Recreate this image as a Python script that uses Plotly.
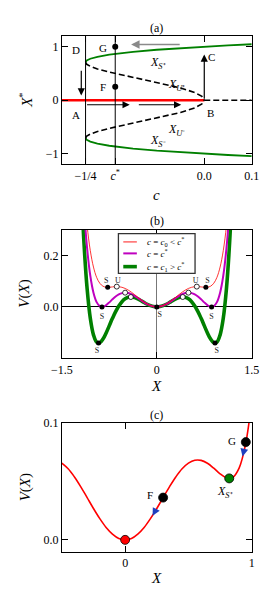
import plotly.graph_objects as go

FONT = "Liberation Serif"

# ---------------- panel (a): bifurcation diagram ----------------
c_fold = -0.25
c_star = -0.1875
c_range_a = [-0.3, 0.1]
c_stable = [-0.25, -0.2495, -0.249, -0.2475, -0.24, -0.225, -0.2, -0.175, -0.15, -0.1, -0.05, 0.0, 0.05, 0.1]
x_stable_up = [0.7071, 0.7228, 0.7291, 0.7416, 0.7746, 0.8112, 0.8507, 0.8797, 0.9035, 0.9420, 0.9732, 1.0, 1.0236, 1.0448]
x_stable_dn = [-0.7071, -0.7228, -0.7291, -0.7416, -0.7746, -0.8112, -0.8507, -0.8797, -0.9035, -0.9420, -0.9732, -1.0, -1.0236, -1.0448]
c_unstable = [-0.25, -0.2495, -0.249, -0.2475, -0.24, -0.225, -0.2, -0.175, -0.15, -0.1, -0.05, -0.02, -0.01, -0.005, 0.0]
x_unstable_up = [0.7071, 0.6911, 0.6844, 0.6708, 0.6325, 0.5847, 0.5257, 0.4755, 0.4287, 0.3357, 0.2297, 0.1428, 0.1005, 0.0707, 0.0]
x_unstable_dn = [-0.7071, -0.6911, -0.6844, -0.6708, -0.6325, -0.5847, -0.5257, -0.4755, -0.4287, -0.3357, -0.2297, -0.1428, -0.1005, -0.0707, 0.0]
c_zero_stable = [-0.3, 0.0]
x_zero_stable = [0.0, 0.0]
c_zero_unstable = [0.0, 0.1]
x_zero_unstable = [0.0, 0.0]
c_points = [c_star, c_star]
x_points = [1.0, 0.25]          # G, F

a_ticks = [-0.25, c_star, 0.0, 0.1]
a_ticktext = ["\u22121/4", "<i>c</i><sup>*</sup>", "0.0", "0.1"]
a_yticks = [-1, 0, 1]
a_yticktext = ["\u22121", "0", "1"]

# ---------------- panel (b): potentials ----------------
X_b = [-1.2, -1.15, -1.1, -1.05, -1.0, -0.95, -0.9, -0.85, -0.8, -0.75, -0.7, -0.65, -0.6, -0.55, -0.5,
       -0.45, -0.4, -0.35, -0.3, -0.25, -0.2, -0.15, -0.1, -0.05, 0.0, 0.05, 0.1, 0.15, 0.2, 0.25, 0.3,
       0.35, 0.4, 0.45, 0.5, 0.55, 0.6, 0.65, 0.7, 0.75, 0.8, 0.85, 0.9, 0.95, 1.0, 1.05, 1.1, 1.15, 1.2]
V_c0 = [0.6417, 0.4514, 0.3141, 0.2185, 0.1547, 0.1147, 0.0918, 0.0804, 0.0763, 0.0762, 0.0776, 0.0787,
        0.0784, 0.0761, 0.0717, 0.0651, 0.0569, 0.0475, 0.0375, 0.0277, 0.0186, 0.0109, 0.0050, 0.0013, 0.0,
        0.0013, 0.0050, 0.0109, 0.0186, 0.0277, 0.0375, 0.0475, 0.0569, 0.0651, 0.0717, 0.0761, 0.0784,
        0.0787, 0.0776, 0.0762, 0.0763, 0.0804, 0.0918, 0.1147, 0.1547, 0.2185, 0.3141, 0.4514, 0.6417]
V_cstar = [0.6056, 0.3829, 0.2262, 0.1210, 0.0552, 0.0185, 0.0026, 0.0005, 0.0068, 0.0175, 0.0293, 0.0400,
           0.0484, 0.0535, 0.0552, 0.0536, 0.0492, 0.0426, 0.0346, 0.0261, 0.0178, 0.0105, 0.0048, 0.0012, 0.0,
           0.0012, 0.0048, 0.0105, 0.0178, 0.0261, 0.0346, 0.0426, 0.0492, 0.0536, 0.0552, 0.0535, 0.0484,
           0.0400, 0.0293, 0.0175, 0.0068, 0.0005, 0.0026, 0.0185, 0.0552, 0.1210, 0.2262, 0.3829, 0.6056]
V_c1 = [0.5130, 0.2492, 0.0697, -0.0444, -0.1088, -0.1368, -0.1393, -0.1251, -0.1012, -0.0729, -0.0444,
        -0.0183, 0.0035, 0.0201, 0.0312, 0.0371, 0.0384, 0.0359, 0.0308, 0.0241, 0.0169, 0.0102, 0.0047,
        0.0012, 0.0, 0.0012, 0.0047, 0.0102, 0.0169, 0.0241, 0.0308, 0.0359, 0.0384, 0.0371, 0.0312, 0.0201,
        0.0035, -0.0183, -0.0444, -0.0729, -0.1012, -0.1251, -0.1393, -0.1368, -0.1088, -0.0444, 0.0697,
        0.2492, 0.5130]
# equilibria (stable: filled, unstable: open)
Xs_b = [-0.775, 0.775, -0.866, 0.866, -0.92, 0.92, 0.0]
Vs_b = [0.076, 0.076, 0.0, 0.0, -0.140, -0.140, 0.0]
Xu_b = [-0.632, 0.632, -0.5, 0.5, -0.41, 0.41]
Vu_b = [0.0788, 0.0788, 0.0552, 0.0552, 0.0384, 0.0384]
S_label_X = [-0.80, 0.80, -0.865, 0.865, -0.945, 0.945, 0.045]
S_label_V = [0.102, 0.102, -0.038, -0.038, -0.170, -0.170, -0.032]
U_label_X = [-0.615, 0.615]
U_label_V = [0.102, 0.102]
legend_names = ["<i>c</i> = <i>c</i><sub>0</sub> &lt; <i>c</i><sup>*</sup>",
                "<i>c</i> = <i>c</i><sup>*</sup>",
                "<i>c</i> = <i>c</i><sub>1</sub> &gt; <i>c</i><sup>*</sup>"]

# ---------------- panel (c): potential at c between -1/4 and c* ----------------
X_c = [-0.5, -0.45, -0.4, -0.35, -0.3, -0.25, -0.2, -0.15, -0.1, -0.05, 0.0, 0.05, 0.1, 0.15, 0.2, 0.25,
       0.3, 0.35, 0.4, 0.45, 0.5, 0.55, 0.6, 0.65, 0.7, 0.75, 0.8, 0.85, 0.9, 0.95, 1.0]
V_c = [0.0655, 0.0607, 0.0537, 0.0453, 0.0361, 0.0268, 0.0181, 0.0106, 0.0049, 0.0012, 0.0, 0.0012, 0.0049,
       0.0106, 0.0181, 0.0268, 0.0361, 0.0453, 0.0537, 0.0607, 0.0655, 0.0680, 0.0679, 0.0654, 0.0612,
       0.0564, 0.0530, 0.0534, 0.0613, 0.0811, 0.1188]
pts_c_X = [0.0, 0.30, 0.822, 0.953]
pts_c_V = [0.0, 0.0361, 0.0525, 0.0835]
pts_c_col = ["red", "black", "green", "black"]

fig = go.Figure()

# ---- traces (a)
fig.add_trace(go.Scatter(x=c_zero_stable, y=x_zero_stable, mode="lines",
                         line=dict(color="red", width=2.6), xaxis="x", yaxis="y", showlegend=False))
fig.add_trace(go.Scatter(x=c_zero_unstable, y=x_zero_unstable, mode="lines",
                         line=dict(color="black", width=1.6, dash="6px,3px"), xaxis="x", yaxis="y", showlegend=False))
for xs in (x_stable_up, x_stable_dn):
    fig.add_trace(go.Scatter(x=c_stable, y=xs, mode="lines", line=dict(color="green", width=1.8),
                             xaxis="x", yaxis="y", showlegend=False))
for xu in (x_unstable_up, x_unstable_dn):
    fig.add_trace(go.Scatter(x=c_unstable, y=xu, mode="lines",
                             line=dict(color="black", width=1.6, dash="6px,3px"),
                             xaxis="x", yaxis="y", showlegend=False))
fig.add_trace(go.Scatter(x=c_points, y=x_points, mode="markers",
                         marker=dict(color="black", size=6), xaxis="x", yaxis="y", showlegend=False))

# ---- traces (b)
fig.add_trace(go.Scatter(x=X_b, y=V_c1, mode="lines", line=dict(color="green", width=3.6, shape="spline"),
                         xaxis="x2", yaxis="y2", showlegend=False))
fig.add_trace(go.Scatter(x=X_b, y=V_cstar, mode="lines", line=dict(color="#bf00bf", width=2.0, shape="spline"),
                         xaxis="x2", yaxis="y2", showlegend=False))
fig.add_trace(go.Scatter(x=X_b, y=V_c0, mode="lines", line=dict(color="red", width=0.8, shape="spline"),
                         xaxis="x2", yaxis="y2", showlegend=False))
fig.add_trace(go.Scatter(x=Xs_b, y=Vs_b, mode="markers", marker=dict(color="black", size=5),
                         xaxis="x2", yaxis="y2", showlegend=False))
fig.add_trace(go.Scatter(x=Xu_b, y=Vu_b, mode="markers",
                         marker=dict(color="white", size=5, line=dict(color="black", width=0.8)),
                         xaxis="x2", yaxis="y2", showlegend=False))
fig.add_trace(go.Scatter(x=S_label_X, y=S_label_V, mode="text", text=["S"] * len(S_label_X),
                         textfont=dict(family=FONT, size=8, color="#222"),
                         xaxis="x2", yaxis="y2", showlegend=False))
fig.add_trace(go.Scatter(x=U_label_X, y=U_label_V, mode="text", text=["U"] * len(U_label_X),
                         textfont=dict(family=FONT, size=8, color="#222"),
                         xaxis="x2", yaxis="y2", showlegend=False))

# ---- traces (c)
fig.add_trace(go.Scatter(x=X_c, y=V_c, mode="lines", line=dict(color="red", width=1.6, shape="spline"),
                         xaxis="x3", yaxis="y3", showlegend=False))
fig.add_trace(go.Scatter(x=pts_c_X, y=pts_c_V, mode="markers",
                         marker=dict(color=pts_c_col, size=9, line=dict(color="black", width=0.8)),
                         xaxis="x3", yaxis="y3", showlegend=False))

# ---- axes
W, H = 280, 600
def px_x(p):
    return p / W
def px_y(p):
    return 1 - p / H

base = dict(showline=True, linecolor="black", linewidth=1, mirror="ticks", ticks="inside", ticklen=6,
            tickcolor="black", tickwidth=1, showgrid=False, zeroline=False, fixedrange=True,
            tickfont=dict(family=FONT, size=12, color="black"))
xdom = [px_x(54.3), px_x(257.3)]
layout_axes = dict(
    xaxis=dict(base, domain=xdom, anchor="y", range=c_range_a, tickvals=a_ticks, ticktext=a_ticktext),
    yaxis=dict(base, domain=[px_y(159.3), px_y(29.3)], anchor="x", range=[-1.2, 1.2],
               tickvals=a_yticks, ticktext=a_yticktext),
    xaxis2=dict(base, domain=xdom, anchor="y2", range=[-1.5, 1.5], tickvals=[-1.5, 0, 1.5],
                ticktext=["\u22121.5", "0", "1.5"], zeroline=True, zerolinecolor="#777", zerolinewidth=1),
    yaxis2=dict(base, domain=[px_y(355.5), px_y(225.3)], anchor="x2", range=[-0.2, 0.3],
                tickvals=[0, 0.2], ticktext=["0.0", "0.2"], zeroline=True, zerolinecolor="black",
                zerolinewidth=1),
    xaxis3=dict(base, domain=xdom, anchor="y3", range=[-0.5, 1.0], tickvals=[0, 1], ticktext=["0", "1"]),
    yaxis3=dict(base, domain=[px_y(551), px_y(420.7)], anchor="x3", range=[-0.01, 0.1],
                tickvals=[0, 0.1], ticktext=["0.0", "0.1"]),
)

ann = []
def txt(x, y, s, xref, yref, size=11, **kw):
    d = dict(x=x, y=y, text=s, xref=xref, yref=yref, showarrow=False, xanchor="center", yanchor="middle",
             font=dict(family=FONT, size=size, color="black"))
    d.update(kw)
    ann.append(d)

# panel titles and axis titles (paper coords)
cx = px_x(155.8)
txt(cx, px_y(21.5), "(a)", "paper", "paper", 12)
txt(cx, px_y(216.5), "(b)", "paper", "paper", 12)
txt(cx, px_y(412.5), "(c)", "paper", "paper", 12)
txt(cx, px_y(190), "<i>c</i>", "paper", "paper", 15)
txt(cx, px_y(383), "<i>X</i>", "paper", "paper", 15)
txt(cx, px_y(578), "<i>X</i>", "paper", "paper", 15)
txt(px_x(16.5), px_y(94.5), "<i>X</i><sup>*</sup>", "paper", "paper", 15, textangle=-90)
txt(px_x(15), px_y(290), "<i>V</i>(<i>X</i>)", "paper", "paper", 15, textangle=-90)
txt(px_x(15), px_y(486), "<i>V</i>(<i>X</i>)", "paper", "paper", 15, textangle=-90)

# panel (a) labels
txt(-0.271, 0.93, "D", "x", "y")
txt(-0.213, 0.98, "G", "x", "y")
txt(-0.214, 0.24, "F", "x", "y")
txt(-0.270, -0.27, "A", "x", "y")
txt(0.014, -0.23, "B", "x", "y")
txt(0.016, 0.81, "C", "x", "y")
txt(-0.098, 0.70, "<i>X</i><sub><i>S</i>\u207a</sub>", "x", "y", 12)
txt(-0.058, 0.28, "<i>X</i><sub><i>U</i>\u207a</sub>", "x", "y", 12)
txt(-0.058, -0.55, "<i>X</i><sub><i>U</i>\u207b</sub>", "x", "y", 12)
txt(-0.098, -0.76, "<i>X</i><sub><i>S</i>\u207b</sub>", "x", "y", 12)

# arrows (tip at x,y; tail at ax,ay)
def arrow(tip, tail, xr, yr, color="black", width=1.2, head=2, size=1.2):
    ann.append(dict(x=tip[0], y=tip[1], ax=tail[0], ay=tail[1], xref=xr, yref=yr, axref=xr, ayref=yr,
                    showarrow=True, arrowhead=head, arrowsize=size, arrowwidth=width, arrowcolor=color,
                    text="", standoff=0, startstandoff=0))
arrow((-0.154, 1.04), (-0.0486, 1.04), "x", "y", color="#8a8a8a", width=1.4)
arrow((-0.259, 0.087), (-0.259, 0.58), "x", "y")
arrow((-0.157, -0.085), (-0.25, -0.085), "x", "y")
arrow((-0.0486, -0.085), (-0.141, -0.085), "x", "y")
arrow((0.0, 0.855), (0.0, 0.0), "x", "y")

# panel (c) labels and arrows
txt(0.198, 0.038, "F", "x3", "y3")
txt(0.847, 0.0847, "G", "x3", "y3")
txt(0.785, 0.0412, "<i>X</i><sub><i>S</i>\u207a</sub>", "x3", "y3", 12)
arrow((0.217, 0.0205), (0.245, 0.0262), "x3", "y3", color="#1f3fbf", width=1.2, head=2, size=1.3)
arrow((0.927, 0.0712), (0.943, 0.0785), "x3", "y3", color="#1f3fbf", width=1.2, head=2, size=1.3)

# shapes: vertical reference lines in (a), legend in (b)
shapes = [
    dict(type="line", xref="x", yref="y domain", x0=c_fold, x1=c_fold, y0=0, y1=1,
         line=dict(color="black", width=1)),
    dict(type="line", xref="x", yref="y domain", x0=c_star, x1=c_star, y0=0, y1=1,
         line=dict(color="black", width=1)),
    dict(type="rect", xref="paper", yref="paper", x0=px_x(114.8), x1=px_x(196.7), y0=px_y(269.5),
         y1=px_y(229.3), line=dict(color="#333", width=1.3), fillcolor="white", layer="above"),
]
leg_rows = [237.7, 249.3, 262.7]
leg_styles = [("red", 0.9), ("#bf00bf", 2.0), ("green", 3.6)]
for row, (col, w), name in zip(leg_rows, leg_styles, legend_names):
    shapes.append(dict(type="line", xref="paper", yref="paper", x0=px_x(120), x1=px_x(134.5),
                       y0=px_y(row), y1=px_y(row), line=dict(color=col, width=w), layer="above"))
    txt(px_x(143), px_y(row), name, "paper", "paper", 9, xanchor="left")

fig.update_layout(
    width=W, height=H, margin=dict(l=0, r=0, t=0, b=0),
    paper_bgcolor="white", plot_bgcolor="white",
    font=dict(family=FONT, color="black"),
    annotations=ann, shapes=shapes, showlegend=False,
    **layout_axes,
)
fig.write_html("out.html", config={"displayModeBar": False},
               post_script="document.body.style.margin='0';document.body.style.overflow='hidden';")
